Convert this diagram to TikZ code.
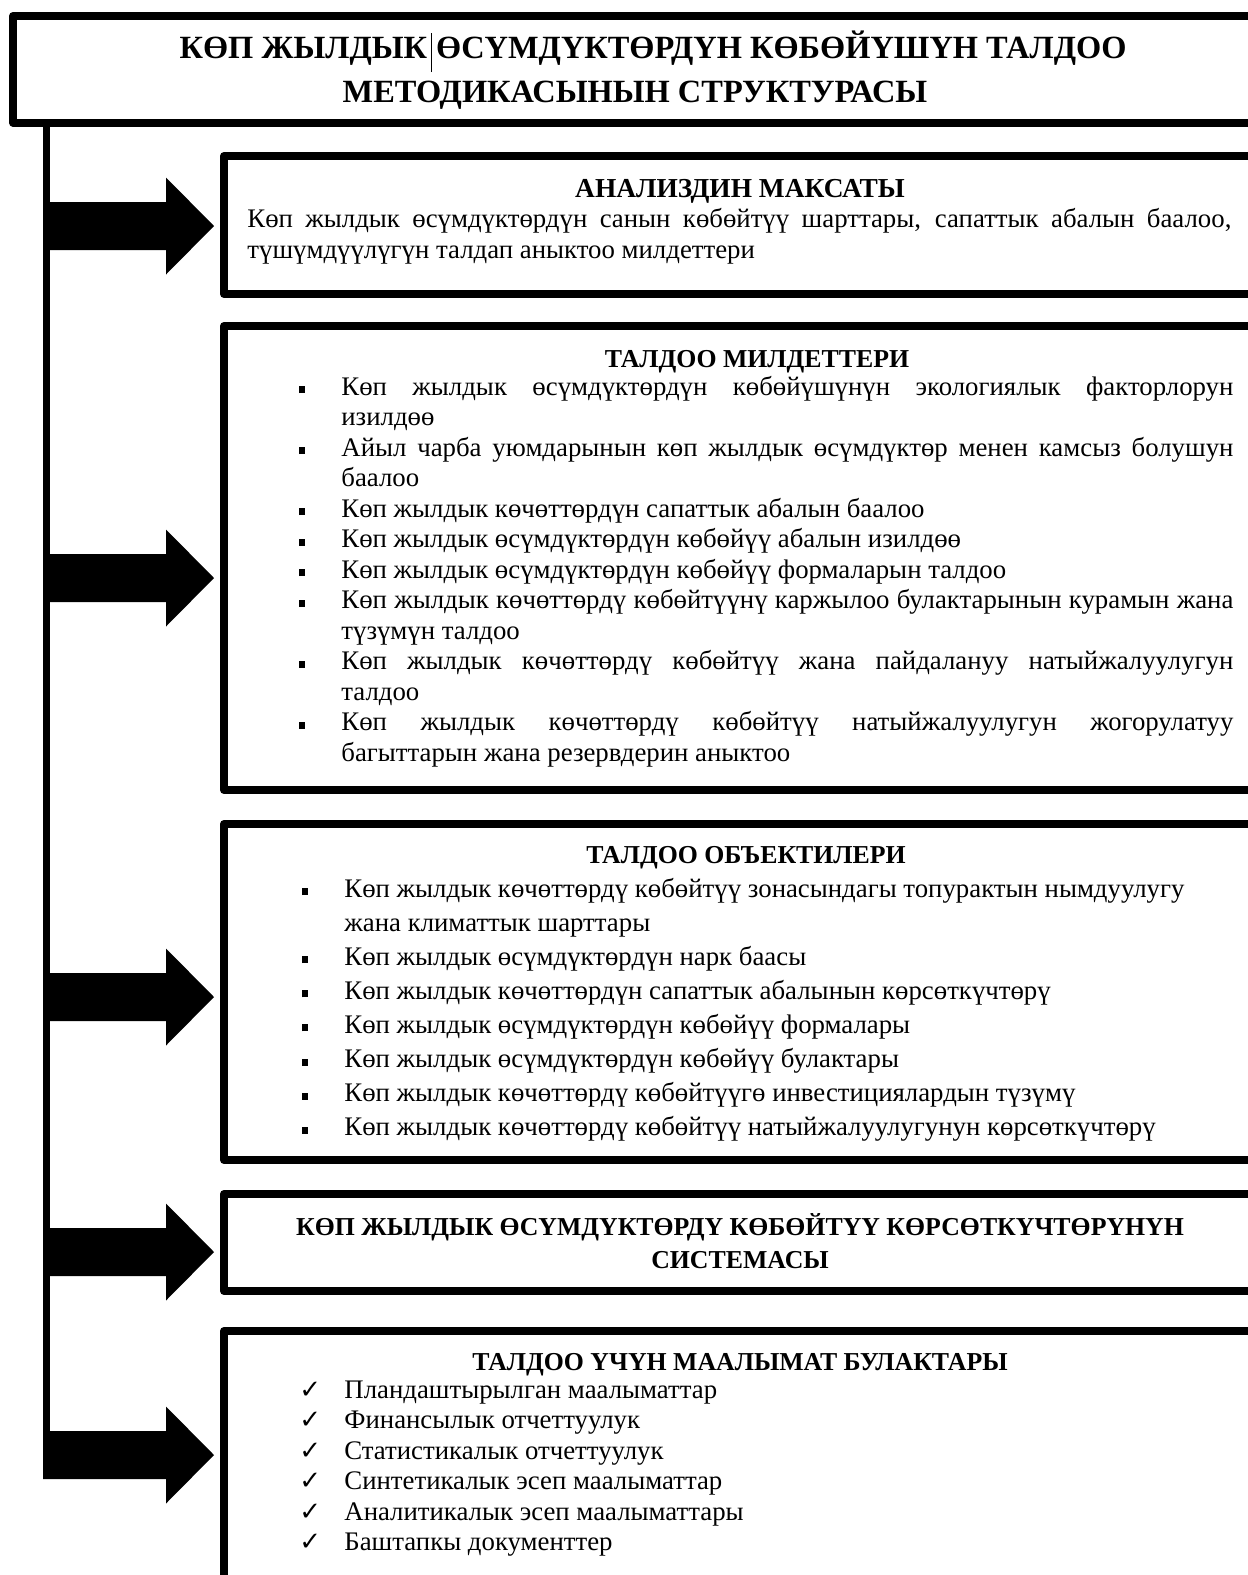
\documentclass[tikz,border=0pt]{standalone}
\usepackage{fontspec}
\setmainfont{Liberation Serif}
\newfontfamily\dejavu{DejaVu Sans}
\usetikzlibrary{calc}
\newcommand\bul{\llap{\rule[1pt]{3pt}{3.5pt}\hskip18pt}}
\newcommand\chk{\llap{\makebox[22.5pt][l]{\dejavu\fontsize{13pt}{13pt}\selectfont ✓}}}
\newcommand\JL[1]{\hbox to\hsize{#1}}
\newcommand\NL[1]{\hbox{#1}}
\newcommand\blockarrow[2]{%
  \coordinate (#1tip) at ($(#1 -| #2.west)+(-6,0)$);
  \fill ($(#1)+(0,-24)$) -- ($(#1tip)+(-48,-24)$) -- ($(#1tip)+(-48,-48.5)$) -- (#1tip)
     -- ($(#1tip)+(-48,48.5)$) -- ($(#1tip)+(-48,24)$) -- ($(#1)+(0,24)$) -- cycle;}
\begin{document}
\begin{tikzpicture}[x=0.5pt,y=-0.5pt,
  box/.style={draw, line width=4pt, line join=round, inner sep=0pt, minimum width=518pt},
  head/.style={font=\fontsize{12.9pt}{15pt}\selectfont\bfseries, inner sep=0pt, anchor=base},
  ttl/.style={font=\fontsize{16.2pt}{18pt}\selectfont\bfseries, inner sep=0pt, anchor=base},
  body/.style={font=\fontsize{13.4pt}{15pt}\selectfont, inner sep=0pt, anchor=base west},
  trunk/.style={line width=3.25pt}]
\useasboundingbox (0,0) rectangle (1248,1575);
\fill[white] (0,0) rectangle (1248,1575);
\clip (0,0) rectangle (1248,1575);
% boxes
\node[box, minimum width=623.5pt, minimum height=53.25pt] (title) at (636.5,69.25) {};
\node[box, minimum height=69pt] (b1) at (742,225) {};
\node[box, minimum height=232pt] (b2) at (742,558) {};
\node[box, minimum height=168pt] (b3) at (742,992) {};
\node[box, minimum height=48.5pt] (b4) at (742,1242.5) {};
\node[box, minimum height=134.5pt] (b5) at (742,1465.5) {};
% title
\node[ttl] (title1) at (653,58) {КӨП ЖЫЛДЫК\hskip2pt\rule[-7pt]{0.5pt}{19.5pt}\hskip2ptӨСҮМДҮКТӨРДҮН КӨБӨЙҮШҮН ТАЛДОО};
\node[ttl] (title2) at (635,102) {МЕТОДИКАСЫНЫН СТРУКТУРАСЫ};
% trunk and arrows
\coordinate (t1) at (46.5,226);
\coordinate (t2) at (46.5,578);
\coordinate (t3) at (46.5,997);
\coordinate (t4) at (46.5,1252);
\coordinate (t5) at (43,1455);
\coordinate (tend) at (46.5,1479);
\draw[trunk] (title.south -| tend) -- (tend);
\blockarrow{t1}{b1}
\blockarrow{t2}{b2}
\blockarrow{t3}{b3}
\blockarrow{t4}{b4}
\blockarrow{t5}{b5}
% box 1
\node[head, font=\fontsize{13.7pt}{15pt}\selectfont\bfseries] (h1) at (740,197) {АНАЛИЗДИН МАКСАТЫ};
\node[body] (x1) at (247,227) {\parbox[t]{492pt}{\baselineskip=15.5pt
\JL{Көп жылдык өсүмдүктөрдүн санын көбөйтүү шарттары, сапаттык абалын баалоо,}
\NL{түшүмдүүлүгүн талдап аныктоо милдеттери}}};
% box 2
\node[head] (h2) at (757,367) {ТАЛДОО МИЛДЕТТЕРИ};
\node[body] (x2) at (341,395) {\parbox[t]{446pt}{\baselineskip=15.25pt
\JL{\bul Көп жылдык өсүмдүктөрдүн көбөйүшүнүн экологиялык факторлорун}
\NL{изилдөө}
\JL{\bul Айыл чарба уюмдарынын көп жылдык өсүмдүктөр менен камсыз болушун}
\NL{баалоо}
\NL{\bul Көп жылдык көчөттөрдүн сапаттык абалын баалоо}
\NL{\bul Көп жылдык өсүмдүктөрдүн көбөйүү абалын изилдөө}
\NL{\bul Көп жылдык өсүмдүктөрдүн көбөйүү формаларын талдоо}
\JL{\bul Көп жылдык көчөттөрдү көбөйтүүнү каржылоо булактарынын курамын жана}
\NL{түзүмүн талдоо}
\JL{\bul Көп жылдык көчөттөрдү көбөйтүү жана пайдалануу натыйжалуулугун}
\NL{талдоо}
\JL{\bul Көп жылдык көчөттөрдү көбөйтүү натыйжалуулугун жогорулатуу}
\NL{багыттарын жана резервдерин аныктоо}}};
% box 3
\node[head] (h3) at (746,863) {ТАЛДОО ОБЪЕКТИЛЕРИ};
\node[body] (x3) at (344,897) {\parbox[t]{446pt}{\baselineskip=17.05pt
\NL{\bul Көп жылдык көчөттөрдү көбөйтүү зонасындагы топурактын нымдуулугу}
\NL{жана климаттык шарттары}
\NL{\bul Көп жылдык өсүмдүктөрдүн нарк баасы}
\NL{\bul Көп жылдык көчөттөрдүн сапаттык абалынын көрсөткүчтөрү}
\NL{\bul Көп жылдык өсүмдүктөрдүн көбөйүү формалары}
\NL{\bul Көп жылдык өсүмдүктөрдүн көбөйүү булактары}
\NL{\bul Көп жылдык көчөттөрдү көбөйтүүгө инвестициялардын түзүмү}
\NL{\bul Көп жылдык көчөттөрдү көбөйтүү натыйжалуулугунун көрсөткүчтөрү}}};
% box 4
\node[head] (h4a) at (740,1235) {КӨП ЖЫЛДЫК ӨСҮМДҮКТӨРДҮ КӨБӨЙТҮҮ КӨРСӨТКҮЧТӨРҮНҮН};
\node[head] (h4b) at (740,1268) {СИСТЕМАСЫ};
% box 5
\node[head] (h5) at (740,1370) {ТАЛДОО ҮЧҮН МААЛЫМАТ БУЛАКТАРЫ};
\node[body] (x5) at (344,1398) {\parbox[t]{446pt}{\baselineskip=15.25pt
\NL{\chk Пландаштырылган маалыматтар}
\NL{\chk Финансылык отчеттуулук}
\NL{\chk Статистикалык отчеттуулук}
\NL{\chk Синтетикалык эсеп маалыматтар}
\NL{\chk Аналитикалык эсеп маалыматтары}
\NL{\chk Баштапкы документтер}}};
\end{tikzpicture}
\end{document}
